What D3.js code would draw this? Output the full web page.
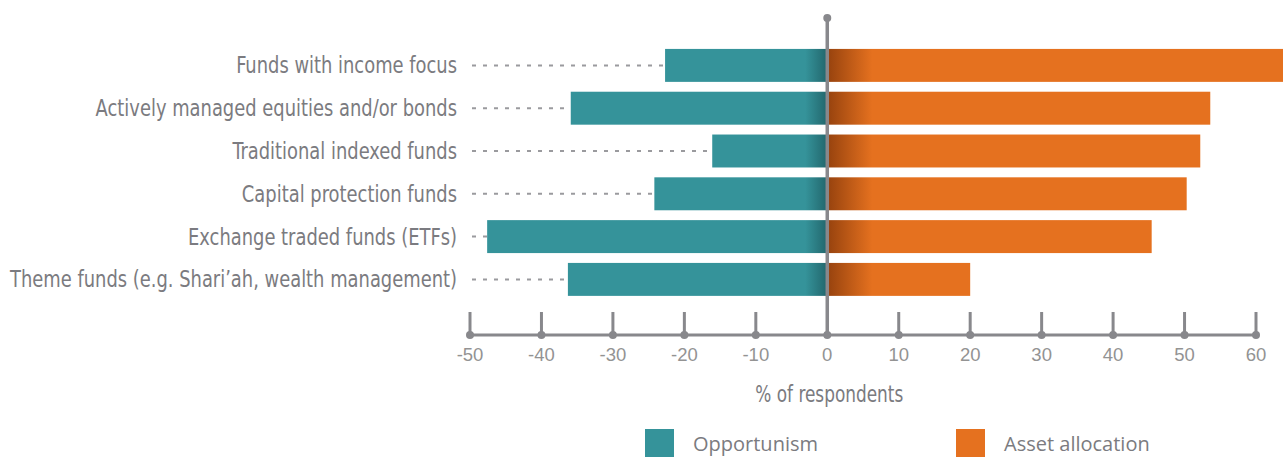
<!DOCTYPE html>
<html>
<head>
<meta charset="utf-8">
<script src="https://cdn.jsdelivr.net/npm/d3@7"></script>
<style>
  body { margin: 0; background: #fff; }
  svg { display: block; }
</style>
</head>
<body>
<div id="chart"></div>
<script>
// data
const categories = [
  "Funds with income focus",
  "Actively managed equities and/or bonds",
  "Traditional indexed funds",
  "Capital protection funds",
  "Exchange traded funds (ETFs)",
  "Theme funds (e.g. Shari\u2019ah, wealth management)"
];
const opportunism = [-22.7, -35.9, -16.1, -24.2, -47.6, -36.3];
const assetAllocation = [64, 53.6, 52.2, 50.3, 45.4, 20.0];
const tickValues = [-50, -40, -30, -20, -10, 0, 10, 20, 30, 40, 50, 60];
const seriesNames = ["Opportunism", "Asset allocation"];

const width = 1283, height = 457;
const teal = "#35939a", orange = "#e5711f", grey = "#88888c";
const condFont = "'DejaVu Sans Condensed', 'DejaVu Sans', sans-serif";

const svg = d3.select("#chart").append("svg")
    .attr("width", width)
    .attr("height", height);

const x = d3.scaleLinear().domain([-50, 60]).range([470, 1256]);
const y = d3.scaleBand().domain(categories).range([44, 300.8])
    .paddingInner(0.23).paddingOuter(0.115);

/* gradients: darker towards the centre line */
const defs = svg.append("defs");
let gT = defs.append("linearGradient").attr("id", "gTeal")
    .attr("gradientUnits", "userSpaceOnUse")
    .attr("x1", x(0) - 22).attr("x2", x(0)).attr("y1", 0).attr("y2", 0);
gT.append("stop").attr("offset", 0).attr("stop-color", teal);
gT.append("stop").attr("offset", 1).attr("stop-color", "#22666c");
let gO = defs.append("linearGradient").attr("id", "gOrange")
    .attr("gradientUnits", "userSpaceOnUse")
    .attr("x1", x(0)).attr("x2", x(0) + 45).attr("y1", 0).attr("y2", 0);
gO.append("stop").attr("offset", 0).attr("stop-color", "#96420e");
gO.append("stop").attr("offset", 1).attr("stop-color", orange);

/* labels - condensed look by squeezing the text horizontally */
const labels = svg.append("g").selectAll("text")
    .data(categories).enter()
    .append("text")
    .attr("text-anchor", "end")
    .attr("dy", "0.35em")
    .attr("fill", "#7b7b80")
    .style("font-family", condFont)
    .style("font-size", "23px")
    .text(d => d);
let longest = d3.max(labels.nodes(), n => n.getComputedTextLength());
let sx = 447 / longest;
labels.attr("transform", d => `translate(457, ${y(d) + y.bandwidth() / 2}) scale(${sx}, 1)`);

/* dotted leaders */
svg.append("g").selectAll("line")
    .data(categories).enter()
    .append("line")
    .attr("x1", 472)
    .attr("x2", (d, i) => x(opportunism[i]))
    .attr("y1", d => y(d) + y.bandwidth() / 2)
    .attr("y2", d => y(d) + y.bandwidth() / 2)
    .attr("stroke", "#9a9a9e")
    .attr("stroke-width", 2)
    .attr("stroke-dasharray", "4,7");

/* bars */
svg.append("g").selectAll("rect")
    .data(categories).enter()
    .append("rect")
    .attr("x", (d, i) => x(opportunism[i]))
    .attr("width", (d, i) => x(0) - x(opportunism[i]))
    .attr("y", d => y(d))
    .attr("height", y.bandwidth())
    .attr("fill", "url(#gTeal)");

svg.append("g").selectAll("rect")
    .data(categories).enter()
    .append("rect")
    .attr("x", x(0))
    .attr("width", (d, i) => x(assetAllocation[i]) - x(0))
    .attr("y", d => y(d))
    .attr("height", y.bandwidth())
    .attr("fill", "url(#gOrange)");

/* axis */
const axisY = 335;
const axis = svg.append("g");
axis.append("line")
    .attr("x1", x(-50)).attr("x2", x(60))
    .attr("y1", axisY).attr("y2", axisY)
    .attr("stroke", grey).attr("stroke-width", 3);
axis.selectAll(".tick")
    .data(tickValues.filter(d => d !== 0)).enter()
    .append("line")
    .attr("x1", d => x(d)).attr("x2", d => x(d))
    .attr("y1", 312).attr("y2", axisY)
    .attr("stroke", grey).attr("stroke-width", 3);
axis.selectAll("circle")
    .data(tickValues).enter()
    .append("circle")
    .attr("cx", d => x(d)).attr("cy", axisY).attr("r", 4)
    .attr("fill", grey);
axis.selectAll("text")
    .data(tickValues).enter()
    .append("text")
    .attr("x", d => x(d))
    .attr("y", 361)
    .attr("text-anchor", "middle")
    .attr("fill", "#939393")
    .style("font-family", "'Liberation Sans', Arial, sans-serif")
    .style("font-size", "18.5px")
    .text(d => d);

/* centre line */
svg.append("line")
    .attr("x1", x(0)).attr("x2", x(0))
    .attr("y1", 18).attr("y2", axisY)
    .attr("stroke", grey).attr("stroke-width", 3.5);
svg.append("circle")
    .attr("cx", x(0)).attr("cy", 18).attr("r", 4)
    .attr("fill", grey);

const axisTitle = svg.append("text")
    .attr("text-anchor", "middle")
    .attr("fill", "#7b7b80")
    .style("font-family", condFont)
    .style("font-size", "23px")
    .text("% of respondents");
let tsx = 148 / axisTitle.node().getComputedTextLength();
axisTitle.attr("transform", `translate(${x(0) + 2}, 402) scale(${tsx}, 1)`);

/* legend */
const legendX = [645, 956];
const legend = svg.append("g").selectAll("g")
    .data(seriesNames).enter()
    .append("g")
    .attr("transform", (d, i) => `translate(${legendX[i]}, 429)`);
legend.append("rect")
    .attr("width", 29).attr("height", 28)
    .attr("fill", (d, i) => i ? orange : teal);
legend.append("text")
    .attr("x", 48).attr("y", 22)
    .attr("fill", "#7b7b80")
    .style("font-family", "'Open Sans', sans-serif")
    .style("font-size", "20px")
    .text(d => d);
</script>
</body>
</html>
